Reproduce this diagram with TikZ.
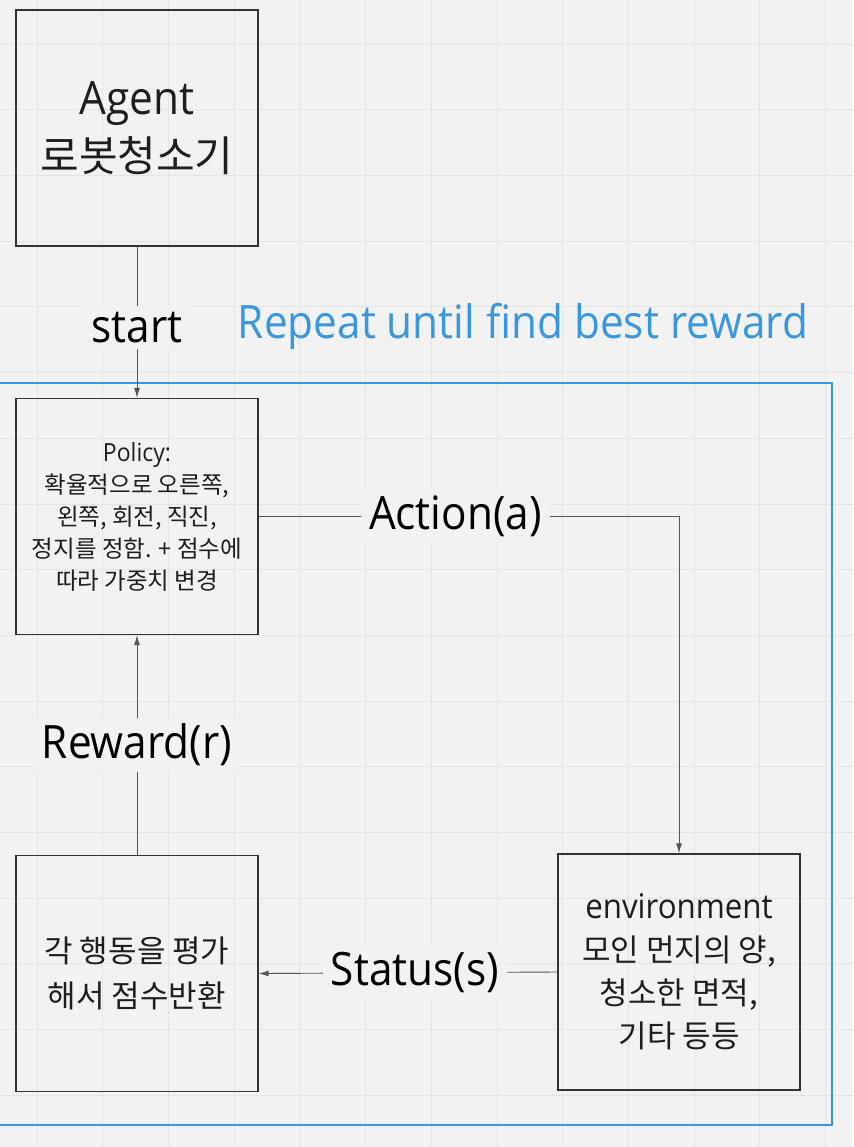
\documentclass[tikz,border=0pt]{standalone}
\usepackage{fontspec}
\setmainfont[FakeStretch=0.92]{Open Sans}
\newfontfamily\kr{Noto Sans CJK KR}
\usetikzlibrary{positioning,arrows.meta}

\definecolor{bgcol}{HTML}{F2F2F2}
\definecolor{gridcol}{HTML}{E4E4E4}
\definecolor{loopblue}{HTML}{3A96DD}
\definecolor{boxline}{HTML}{333333}
\definecolor{edgecol}{HTML}{555555}
\definecolor{txtcol}{HTML}{1E1E1E}

\tikzset{
  box/.style={draw=boxline, line width=1.3pt, minimum width=242pt, minimum height=236pt,
    align=center, inner sep=0pt, text=txtcol},
  edge/.style={draw=edgecol, line width=0.9pt, -{Latex[length=10pt,width=6pt]}},
  elabel/.style={fill=bgcol, inner xsep=8pt, inner ysep=6pt, text=black,
    font=\fontsize{46}{52}\selectfont}
}

\begin{document}
\begin{tikzpicture}[x=1pt,y=-1pt]
  % background and grid
  \fill[bgcol] (0,0) rectangle (853,1147);
  \useasboundingbox (0,0) rectangle (853,1147);
  \foreach \gx in {0,...,12}
    \draw[gridcol, line width=0.8pt] ({37+65.7*\gx},0) -- ++(0,1147);
  \foreach \gy in {0,...,16}
    \draw[gridcol, line width=0.8pt] (0,{44+65.7*\gy}) -- ++(853,0);

  % loop frame
  \draw[loopblue, line width=1.2pt] (-10,383) rectangle (832,1125);
  \node[text=loopblue, font=\fontsize{46}{52}\selectfont] (looptitle) at (523,326) {Repeat until find best reward};

  % boxes
  \node[box, font=\fontsize{46}{57}\selectfont] (agent) at (137,128)
    {Agent\\{\kr\fontsize{42}{57}\selectfont 로봇청소기}};
  \node[box, font=\fontsize{25}{32}\selectfont] (policy) at (137,516.5)
    {Policy:\\{\kr\fontsize{23.5}{32}\selectfont 확율적으로 오른쪽,}\\{\kr\fontsize{23.5}{32}\selectfont 왼쪽, 회전, 직진,}\\{\kr\fontsize{23.5}{32}\selectfont 정지를 정함. + 점수에}\\{\kr\fontsize{23.5}{32}\selectfont 따라 가중치 변경}};
  \node[box, font=\fontsize{34}{43}\selectfont] (env) at (679,972)
    {environment\\{\kr\fontsize{31}{43}\selectfont 모인 먼지의 양,}\\{\kr\fontsize{31}{43}\selectfont 청소한 면적,}\\{\kr\fontsize{31}{42}\selectfont 기타 등등}};
  \node[box, font=\fontsize{31}{45}\selectfont\kr] (evalbox) at (137,973.5)
    {각 행동을 평가\\해서 점수반환};

  % connectors
  \draw[edge] (agent.south) -- node[elabel, pos=0.533] {start} (policy.north);
  \draw[edge] (policy.east) -| node[elabel, pos=0.234] {Action(a)} (env.north);
  \draw[edge] (env.west) -- node[elabel, pos=0.477] {Status(s)} (evalbox.east);
  \draw[edge] (evalbox.north) -- node[elabel, pos=0.5] {Reward(r)} (policy.south);
\end{tikzpicture}
\end{document}
